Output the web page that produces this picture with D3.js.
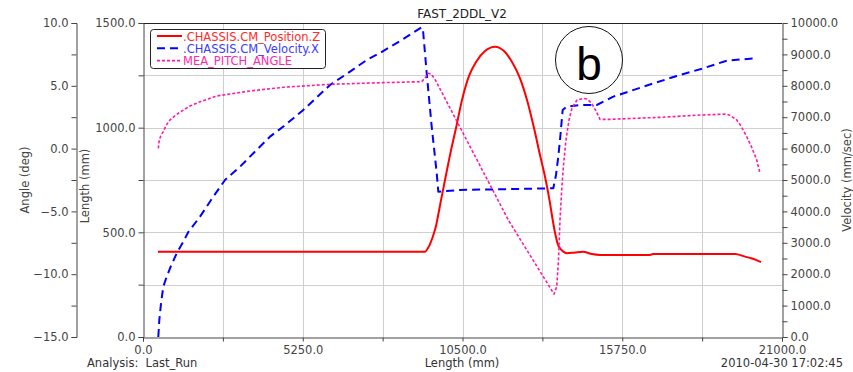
<!DOCTYPE html>
<html>
<head>
<meta charset="utf-8">
<script src="https://cdn.jsdelivr.net/npm/d3@7"></script>
<style>
  body { margin: 0; background: #fff; }
  text { font-family: "DejaVu Sans", sans-serif; }
</style>
</head>
<body>
<svg id="chart" width="853" height="372"></svg>
<script>
// position Z of chassis, length axis (mm)
var posZ = [
  [493,407],[9268,407],[9366,425],[9432,444],[9498,468],[9563,497],[9629,530],
  [9695,578],[9794,654],[9925,750],[10089,869],[10287,998],[10484,1132],[10714,1247],
  [10944,1314],[11240,1366],[11569,1387],[11864,1366],[12127,1314],[12357,1247],
  [12620,1132],[12850,998],[13047,869],[13234,750],[13359,654],[13465,559],
  [13557,487],[13639,440],[13705,424],[13803,409],[13935,400],[14197,404],
  [14460,407],[14756,396],[15019,392],[16662,392],[16761,396],[19456,396],
  [19785,384],[20015,375],[20311,358]
];
// velocity X, right axis (mm/sec)
var velX = [
  [503,0],[536,541],[592,1073],[667,1602],[779,1921],[910,2239],[1107,2666],
  [1324,3035],[1489,3344],[1873,3832],[2310,4469],[2695,5000],[3188,5424],
  [3625,5851],[4174,6380],[4634,6720],[5268,7230],[6146,8026],[6803,8450],
  [7352,8822],[7789,9045],[8502,9459],[9159,9864],[9202,9778],[9323,8408],
  [9488,6698],[9652,5223],[9705,4628],[10418,4682],[13484,4736],[13573,5160],
  [13648,5743],[13704,6274],[13792,7230],[13924,7335],[14362,7389],[14910,7389],
  [15456,7654],[16442,7972],[17539,8313],[18414,8558],[19182,8800],[19621,8838],
  [20169,8877]
];
// pitch angle, left axis (deg)
var pitch = [
  [503,0.02],[536,0.68],[592,1.08],[667,1.35],[756,1.84],[887,2.28],[1085,2.68],
  [1324,3.07],[1545,3.39],[1873,3.73],[2422,4.19],[3516,4.59],[4610,4.88],
  [6146,5.12],[7896,5.25],[9159,5.33],[9268,5.62],[9377,6.0],[9465,5.94],
  [9596,5.52],[12005,-5.68],[13507,-11.58],[13596,-11.0],[13655,-8.87],
  [13704,-5.68],[13760,-3.3],[13819,-1.31],[13901,0.68],[14000,2.28],[14099,3.23],
  [14263,3.87],[14470,4.0],[14592,3.95],[14746,3.61],[14887,2.99],[15019,2.33],
  [15348,2.33],[16991,2.49],[18305,2.67],[19182,2.75],[19324,2.6],[19511,2.28],
  [19652,1.8],[19840,0.95],[20015,0.05],[20169,-0.91],[20277,-1.97]
];

var xTicks = d3.range(0, 21001, 2625);
var lenTicks = d3.range(0, 1501, 250);
var angTicks = d3.range(-15, 10.01, 2.5);
var velTicks = d3.range(0, 10001, 500);

var legendItems = [
  {name: ".CHASSIS.CM_Position.Z", color: "#ff0000", text: "#ff2a2a", dash: null, w: 2},
  {name: ".CHASSIS.CM_Velocity.X", color: "#0000ff", text: "#3a3aff", dash: "8,5", w: 2},
  {name: "MEA_PITCH_ANGLE", color: "#ff1aa8", text: "#ff2aa8", dash: "3,2", w: 1.6}
];

var svg = d3.select("#chart");
var L = 143, R = 782, T = 23, B = 337;

var x = d3.scaleLinear().domain([0, 21000]).range([L, R]);
var yLen = d3.scaleLinear().domain([0, 1500]).range([B, T]);
var yAng = d3.scaleLinear().domain([-15, 10]).range([B, T]);
var yVel = d3.scaleLinear().domain([0, 10000]).range([B, T]);

// grid
var grid = svg.append("g").attr("stroke", "#cfcfcf").attr("stroke-width", 1);
grid.selectAll("line.v").data(xTicks.slice(1, -1)).enter().append("line")
  .attr("x1", d => Math.round(x(d)) + 0.5).attr("x2", d => Math.round(x(d)) + 0.5)
  .attr("y1", T).attr("y2", B);
grid.selectAll("line.h").data(lenTicks.slice(1, -1)).enter().append("line")
  .attr("x1", L).attr("x2", R)
  .attr("y1", d => Math.round(yLen(d)) + 0.5).attr("y2", d => Math.round(yLen(d)) + 0.5);

// top frame line
svg.append("line").attr("x1", L).attr("x2", R).attr("y1", T + 0.5).attr("y2", T + 0.5)
  .attr("stroke", "#222");

function styleAxis(g) {
  g.selectAll(".domain").attr("stroke", "#444");
  g.selectAll(".tick line").attr("stroke", "#444");
  g.selectAll("text").attr("fill", "#444").style("font-size", "11.5px")
    .style("font-family", "DejaVu Sans");
}
var f1 = d3.format(".1f");

svg.append("g").attr("transform", "translate(76.5,0)")
  .call(d3.axisLeft(yAng).tickValues(angTicks).tickSizeOuter(0).tickSize(5)
    .tickFormat(d => d % 5 === 0 ? f1(d) : ""))
  .call(styleAxis);

svg.append("g").attr("transform", "translate(" + (L + 0.5) + ",0)")
  .call(d3.axisLeft(yLen).tickValues(lenTicks).tickSizeOuter(0).tickSize(5)
    .tickFormat(d => d % 500 === 0 ? f1(d) : ""))
  .call(styleAxis);

svg.append("g").attr("transform", "translate(" + (R + 0.5) + ",0)")
  .call(d3.axisRight(yVel).tickValues(velTicks).tickSizeOuter(0).tickSize(5)
    .tickFormat(d => d % 1000 === 0 ? f1(d) : ""))
  .call(styleAxis);

svg.append("g").attr("transform", "translate(0," + (B + 0.5) + ")")
  .call(d3.axisBottom(x).tickValues(xTicks).tickSizeOuter(0).tickSize(4)
    .tickFormat(d => d % 5250 === 0 ? f1(d) : ""))
  .call(styleAxis)
  .selectAll("text").attr("dy", "0.8em");

// axis titles
svg.append("text").attr("transform", "translate(29,180) rotate(-90)")
  .attr("text-anchor", "middle").attr("fill", "#444").style("font-size", "11.5px")
  .text("Angle (deg)");
svg.append("text").attr("transform", "translate(89,186) rotate(-90)")
  .attr("text-anchor", "middle").attr("fill", "#444").style("font-size", "11.5px")
  .text("Length (mm)");
svg.append("text").attr("transform", "translate(851,180) rotate(-90)")
  .attr("text-anchor", "middle").attr("fill", "#444").style("font-size", "11.5px")
  .text("Velocity (mm/sec)");

svg.append("text").attr("x", 462).attr("y", 18).attr("text-anchor", "middle")
  .attr("fill", "#222").style("font-size", "12px").text("FAST_2DDL_V2");
svg.append("text").attr("x", 87).attr("y", 367).attr("fill", "#333")
  .style("font-size", "11.5px").style("white-space", "pre").text("Analysis:  Last_Run");
svg.append("text").attr("x", 462).attr("y", 367).attr("text-anchor", "middle")
  .attr("fill", "#333").style("font-size", "11.5px").text("Length (mm)");
svg.append("text").attr("x", 843).attr("y", 367).attr("text-anchor", "end")
  .attr("fill", "#333").style("font-size", "11.5px").text("2010-04-30 17:02:45");

// series
function drawLine(data, ys, item, curve) {
  var line = d3.line().x(d => x(d[0])).y(d => ys(d[1])).curve(curve);
  svg.append("path").datum(data).attr("d", line)
    .attr("fill", "none").attr("stroke", item.color).attr("stroke-width", item.w)
    .attr("stroke-linejoin", "round").attr("stroke-dasharray", item.dash);
}
drawLine(posZ, yLen, legendItems[0], d3.curveMonotoneX);
drawLine(velX, yVel, legendItems[1], d3.curveLinear);
drawLine(pitch, yAng, legendItems[2], d3.curveLinear);

// legend
var lg = svg.append("g");
lg.append("rect").attr("x", 150.5).attr("y", 29.5).attr("width", 175).attr("height", 39)
  .attr("rx", 3).attr("fill", "#fff").attr("stroke", "#222");
legendItems.forEach(function(it, i) {
  var yy = 36 + i * 12.3;
  lg.append("line").attr("x1", 157).attr("x2", 182).attr("y1", yy).attr("y2", yy)
    .attr("stroke", it.color).attr("stroke-width", it.w).attr("stroke-dasharray", it.dash);
  lg.append("text").attr("x", 183).attr("y", yy + 4.5).attr("fill", it.text)
    .style("font-size", "11.5px").text(it.name);
});

// "b" marker
svg.append("circle").attr("cx", 589).attr("cy", 60).attr("r", 33.5)
  .attr("fill", "#fff").attr("stroke", "#111").attr("stroke-width", 1);
svg.append("text").attr("x", 589).attr("y", 80).attr("text-anchor", "middle")
  .style("font-family", "Liberation Sans").style("font-size", "46px").attr("fill", "#000")
  .text("b");
</script>
</body>
</html>
